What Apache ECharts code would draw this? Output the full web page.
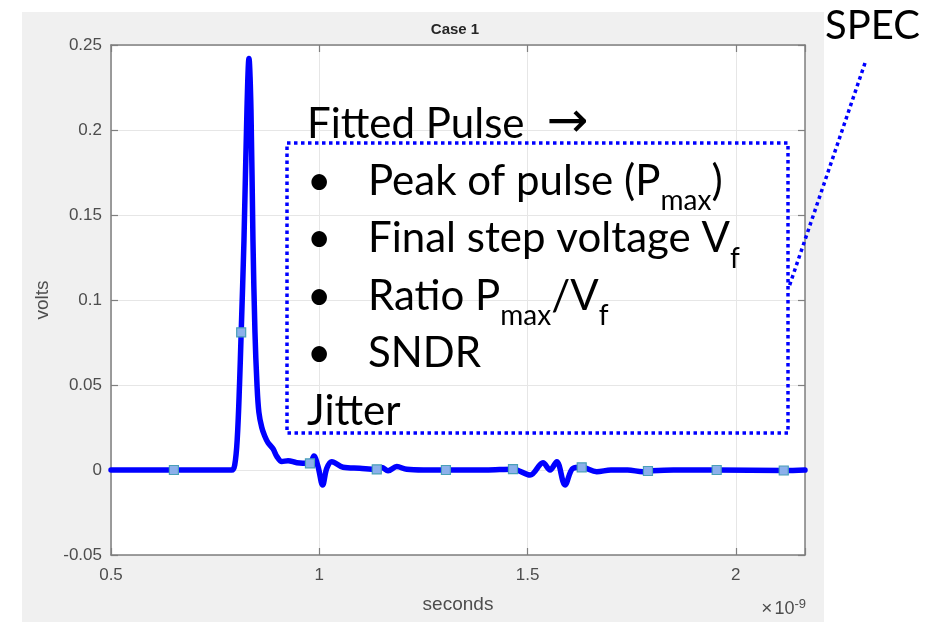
<!DOCTYPE html>
<html>
<head>
<meta charset="utf-8">
<script src="https://cdn.jsdelivr.net/npm/echarts@6/dist/echarts.min.js"></script>
<style>html,body{margin:0;padding:0;background:#fff}#c{width:946px;height:622px}</style>
</head>
<body>
<div id="c"></div>
<script>
// time in units of 1e-9 s
const timeNs = [0.5, 0.651, 0.79, 0.797, 0.803, 0.8085, 0.8125, 0.8192, 0.8264, 0.8312, 0.836, 0.8408, 0.8456, 0.8505, 0.855, 0.862, 0.869, 0.877, 0.889, 0.898, 0.910, 0.925, 0.946, 0.9776, 0.987, 0.997, 1.008, 1.018, 1.030, 1.057, 1.097, 1.138, 1.150, 1.165, 1.186, 1.210, 1.25, 1.304, 1.40, 1.465, 1.506, 1.537, 1.554, 1.570, 1.590, 1.609, 1.630, 1.666, 1.70, 1.74, 1.777, 1.789, 1.85, 1.954, 2.115, 2.166];
const volts = [0, 0, 0, 0.003, 0.018, 0.05, 0.081, 0.135, 0.212, 0.242, 0.212, 0.135, 0.081, 0.05, 0.034, 0.025, 0.02, 0.016, 0.0125, 0.008, 0.005, 0.0055, 0.0043, 0.0039, 0.0082, 0.002, -0.0088, 0.001, 0.0049, 0.0016, 0.001, 0.0004, 0.0015, -0.0004, 0.002, 0.0004, 0, 0, 0, 0.0005, -0.003, 0.0043, 0, 0.0049, -0.0088, 0.001, 0.0016, -0.001, 0, 0, -0.001, -0.0006, 0, 0, -0.0003, 0];
const markerTimeNs = [0.651, 0.8125, 0.9776, 1.138, 1.304, 1.465, 1.630, 1.789, 1.954, 2.115];
const markerVolts = [0, 0.081, 0.0039, 0.0004, 0, 0.0005, 0.0016, -0.0006, 0, -0.0003];
const xMin = 0.5, xMax = 2.166, xStep = 0.5;
const yMin = -0.05, yMax = 0.25, yStep = 0.05;
const chartTitle = 'Case 1';
const xName = 'seconds';
const yName = 'volts';
const noteLines = [
  '{t|Fitted Pulse}{a|→}',
  '{b|•}{t|Peak of pulse (P}{s|max}{t|)}',
  '{b|•}{t|Final step voltage V}{s|f}',
  '{b|•}{t|Ratio P}{s|max}{t|/V}{s|f}',
  '{b|•}{t|SNDR}',
  '{t|Jitter}'
];

const chart = echarts.init(document.getElementById('c'), null, {renderer: 'canvas'});
const axisCol = '#7f7f7f';
const labCol = '#4d4d4d';
const FF = 'Liberation Sans, Arial, sans-serif';
const AF = 'Lato, "Noto Sans", sans-serif';
const blue = '#0000ff';

function xFmt(v) {
  const k = v / xStep;
  return Math.abs(k - Math.round(k)) < 1e-6 ? String(+v.toFixed(3)) : '';
}

const option = {
  animation: false,
  backgroundColor: '#ffffff',
  grid: {left: 111, right: 141, top: 45, bottom: 67, show: true, backgroundColor: '#ffffff', borderWidth: 0},
  xAxis: [{
    type: 'value', min: xMin, max: xMax, interval: xStep, position: 'bottom',
    axisLine: {show: true, onZero: false, lineStyle: {color: axisCol, width: 1.5}},
    axisTick: {show: true, inside: true, length: 7, lineStyle: {color: axisCol, width: 1.2}},
    axisLabel: {color: labCol, fontSize: 17, fontFamily: FF, margin: 12, formatter: xFmt},
    splitLine: {show: true, lineStyle: {color: '#e6e6e6', width: 1}},
    name: xName, nameLocation: 'middle', nameGap: 40,
    nameTextStyle: {color: labCol, fontSize: 19, fontFamily: FF}
  }, {
    type: 'value', min: xMin, max: xMax, interval: xStep, position: 'top',
    axisLine: {show: true, onZero: false, lineStyle: {color: axisCol, width: 1.5}},
    axisTick: {show: true, inside: true, length: 7, lineStyle: {color: axisCol, width: 1.2}},
    axisLabel: {show: false}, splitLine: {show: false}
  }],
  yAxis: [{
    type: 'value', min: yMin, max: yMax, interval: yStep, position: 'left',
    axisLine: {show: true, onZero: false, lineStyle: {color: axisCol, width: 1.5}},
    axisTick: {show: true, inside: true, length: 7, lineStyle: {color: axisCol, width: 1.2}},
    axisLabel: {color: labCol, fontSize: 17, fontFamily: FF, margin: 9},
    splitLine: {show: true, lineStyle: {color: '#e6e6e6', width: 1}},
    name: yName, nameLocation: 'middle', nameGap: 58, nameRotate: 90,
    nameTextStyle: {color: labCol, fontSize: 19, fontFamily: FF}
  }, {
    type: 'value', min: yMin, max: yMax, interval: yStep, position: 'right',
    axisLine: {show: true, onZero: false, lineStyle: {color: axisCol, width: 1.5}},
    axisTick: {show: true, inside: true, length: 7, lineStyle: {color: axisCol, width: 1.2}},
    axisLabel: {show: false}, splitLine: {show: false}
  }],
  series: [{
    type: 'line', xAxisIndex: 0, yAxisIndex: 0,
    data: timeNs.map((t, i) => [t, volts[i]]),
    showSymbol: false, symbol: 'none', smooth: 0.35,
    lineStyle: {color: blue, width: 5.5, cap: 'round', join: 'round'},
    z: 2
  }, {
    type: 'scatter', xAxisIndex: 0, yAxisIndex: 0,
    data: markerTimeNs.map((t, i) => [t, markerVolts[i]]),
    symbol: 'rect', symbolSize: 9,
    itemStyle: {color: '#8cb0ea', borderColor: '#4aa0b8', borderWidth: 1.2, opacity: 1},
    z: 3
  }],
  graphic: [
    {type: 'rect', z: -100, silent: true, shape: {x: 22, y: 12, width: 802, height: 612}, style: {fill: '#f0f0f0'}},
    {type: 'text', z: 10, x: 455, y: 30, style: {text: chartTitle, font: 'bold 15px ' + FF, fill: '#262626', align: 'center', verticalAlign: 'middle'}},
    {type: 'text', z: 10, x: 806, y: 598, style: {
      text: '{a|×}{b|10}{c|-9}', align: 'right', verticalAlign: 'top',
      rich: {
        a: {fontSize: 19, fontFamily: FF, fill: labCol, color: labCol, lineHeight: 20, verticalAlign: 'bottom', padding: [6, 2, 0, 0]},
        b: {fontSize: 18, fontFamily: FF, fill: labCol, color: labCol, lineHeight: 20, verticalAlign: 'bottom', padding: [6, 0, 0, 0]},
        c: {fontSize: 13, fontFamily: FF, fill: labCol, color: labCol, lineHeight: 16, verticalAlign: 'top'}
      }
    }},
    {type: 'text', z: 20, x: 825, y: 26, style: {text: 'SPEC', font: '40px ' + AF, fill: '#000', align: 'left', verticalAlign: 'middle'}},
    {type: 'text', z: 20, x: 307, y: 95.4, style: {
      text: noteLines.join('\n'), align: 'left', verticalAlign: 'top',
      rich: {
        t: {fontSize: 42, fontFamily: AF, fill: '#000', color: '#000', lineHeight: 57.4, verticalAlign: 'middle'},
        a: {fontSize: 50, fontFamily: 'DejaVu Sans, sans-serif', fill: '#000', color: '#000', lineHeight: 57.4, verticalAlign: 'middle', padding: [0, 0, 0, 22]},
        b: {fontSize: 42, fontFamily: AF, fill: '#000', color: '#000', lineHeight: 57.4, verticalAlign: 'middle', width: 61, align: 'left'},
        s: {fontSize: 28, fontFamily: AF, fill: '#000', color: '#000', lineHeight: 20, verticalAlign: 'top', padding: [34.4, 0, 0, 0]}
      }
    }},
    {type: 'rect', z: 19, silent: true, shape: {x: 287, y: 143, width: 501, height: 290},
      style: {fill: 'none', stroke: blue, lineWidth: 3.5, lineDash: [3.5, 3.5]}},
    {type: 'line', z: 19, silent: true, shape: {x1: 865, y1: 63, x2: 789, y2: 287},
      style: {stroke: blue, lineWidth: 3.5, lineDash: [3.5, 3.5]}}
  ]
};
chart.setOption(option);
</script>
</body>
</html>
